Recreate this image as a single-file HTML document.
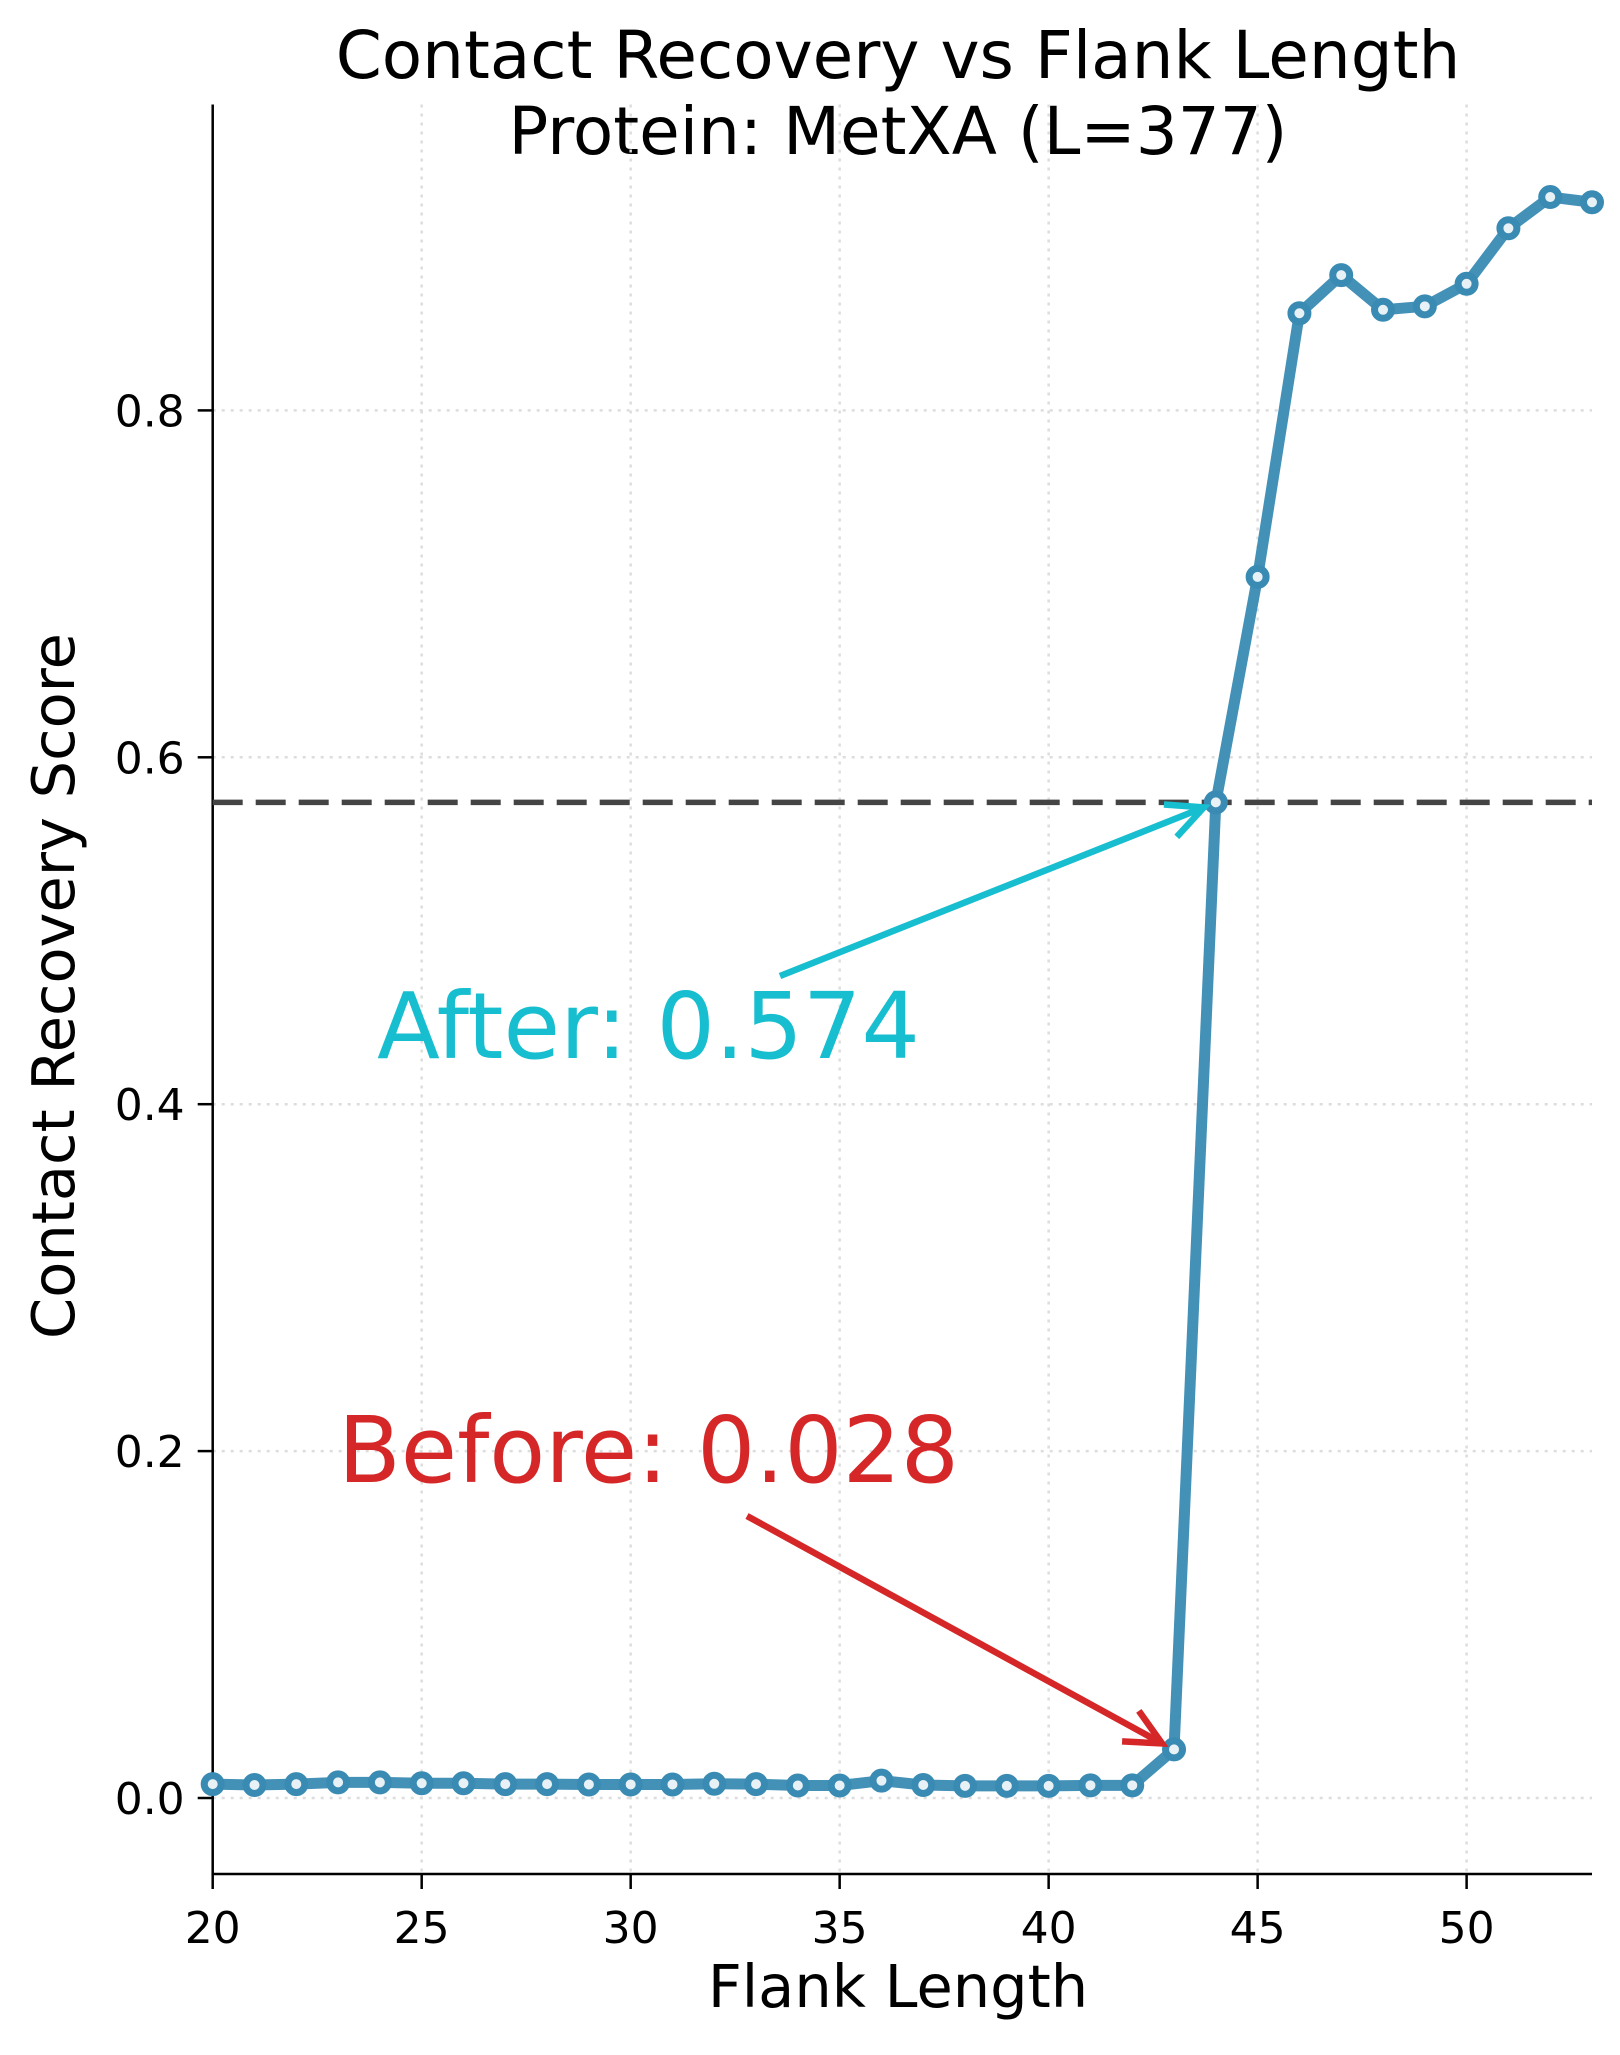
<!DOCTYPE html>
<html><head><meta charset="utf-8"><style>
html,body{margin:0;padding:0;background:#fff}
svg{display:block;font-family:"DejaVu Sans","Liberation Sans",sans-serif}
</style></head><body>
<svg id="chart" width="1620" height="2055" viewBox="0 0 1620 2055" xmlns="http://www.w3.org/2000/svg">
<text x="898" y="78" font-size="66" text-anchor="middle">Contact Recovery vs Flank Length</text>
<text x="898" y="154" font-size="66" text-anchor="middle">Protein: MetXA (L=377)</text>
<g id="grid"></g>
<g id="axes"></g>
<g id="series"></g>
<g id="ann"></g>
<text x="898" y="2007" font-size="59" text-anchor="middle">Flank Length</text>
<text x="74" y="986" font-size="59" text-anchor="middle" transform="rotate(-90 74 986)">Contact Recovery Score</text>
</svg>
<script>
const flankLengths = [20,21,22,23,24,25,26,27,28,29,30,31,32,33,34,35,36,37,38,39,40,41,42,43,44,45,46,47,48,49,50,51,52,53];
const scores = [0.008,0.0075,0.008,0.009,0.009,0.0085,0.0085,0.008,0.008,0.0078,0.0078,0.0078,0.0082,0.008,0.0072,0.0072,0.010,0.0075,0.007,0.007,0.007,0.0073,0.0073,0.028,0.574,0.704,0.856,0.878,0.858,0.860,0.873,0.905,0.923,0.920];
const xTicks = [20,25,30,35,40,45,50];
const yTicks = [0.0,0.2,0.4,0.6,0.8];
const beforeValue = 0.028, afterValue = 0.574, beforeX = 43, afterX = 44;

const NS="http://www.w3.org/2000/svg";
const L=212.7,R=1592,T=104.5,B=1874;
const xs=v=>L+(v-20)*(R-L)/33;
const ys=v=>1798-v*1734.5;
function mk(tag,attrs,parent){const e=document.createElementNS(NS,tag);for(const k in attrs)e.setAttribute(k,attrs[k]);parent.appendChild(e);return e;}
const grid=document.getElementById('grid'),axes=document.getElementById('axes'),series=document.getElementById('series'),ann=document.getElementById('ann');
xTicks.forEach(t=>{
  const g=mk('line',{x1:xs(t),x2:xs(t),y1:T,y2:B,stroke:'#ddd','stroke-width':2.5,'stroke-dasharray':'3,6'},grid);
  
  
  const k=mk('line',{x1:xs(t),x2:xs(t),y1:B,y2:B+15,stroke:'#000','stroke-width':2.5},axes);
  
  
  const tx=mk('text',{x:xs(t),y:1943,'font-size':44,'text-anchor':'middle'},axes);tx.textContent=t;
  
  
});
yTicks.forEach(t=>{
  const g=mk('line',{x1:L,x2:R,y1:ys(t),y2:ys(t),stroke:'#ddd','stroke-width':2.5,'stroke-dasharray':'3,6'},grid);
  
  
  const k=mk('line',{x1:L-15,x2:L,y1:ys(t),y2:ys(t),stroke:'#000','stroke-width':2.5},axes);
  
  
  const tx=mk('text',{x:L-28,y:ys(t)+16,'font-size':44,'text-anchor':'end'},axes);tx.textContent=t.toFixed(1);
  
  
});
const ax=mk('path',{d:`M${L},${T} V${B} H${R}`,fill:'none',stroke:'#000','stroke-width':2.5},axes);


const dl=mk('line',{x1:L,x2:R,y1:ys(afterValue),y2:ys(afterValue),stroke:'#444','stroke-width':5.5,'stroke-dasharray':'30,13'},series);


const pts=flankLengths.map((f,i)=>xs(f)+','+ys(scores[i])).join(' ');
const pl=mk('polyline',{points:pts,fill:'none',stroke:'#3a8bb3','stroke-opacity':0.95,'stroke-width':11,'stroke-linejoin':'round'},series);


flankLengths.forEach((f,i)=>{
  const c=mk('circle',{cx:xs(f),cy:ys(scores[i]),r:8.5,fill:'#e8f1f5',stroke:'#3a8bb3','stroke-width':7},series);
  
  
});
function arrow(x1,y1,x2,y2,col,name){
  const g=mk('g',{},ann);
  
  
  mk('line',{x1,y1,x2,y2,stroke:col,'stroke-width':6.5},g);
  const a=Math.atan2(y2-y1,x2-x1),h=40,s=0.45;
  mk('polyline',{points:`${x2-h*Math.cos(a-s)},${y2-h*Math.sin(a-s)} ${x2},${y2} ${x2-h*Math.cos(a+s)},${y2-h*Math.sin(a+s)}`,fill:'none',stroke:col,'stroke-width':6.5},g);
}
arrow(780,976,xs(afterX)-12,ys(afterValue)+5,'#17becf','after-arrow');
arrow(747,1516,xs(beforeX)-12,ys(beforeValue)-6,'#d62728','before-arrow');
const at=mk('text',{x:377,y:1058,'font-size':92,fill:'#17becf'},ann);at.textContent='After: '+afterValue.toFixed(3);


const bt=mk('text',{x:338,y:1482,'font-size':91.5,fill:'#d62728'},ann);bt.textContent='Before: '+beforeValue.toFixed(3);


</script>
</body></html>
